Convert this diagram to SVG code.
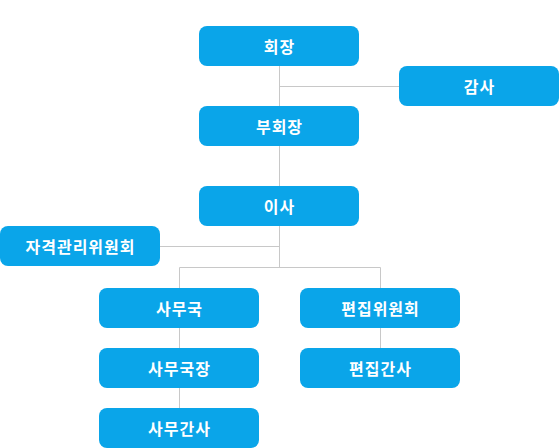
<svg xmlns="http://www.w3.org/2000/svg" width="559" height="448" viewBox="0 0 559 448">
<style>
.n rect{fill:#0aa5e9}
.n text{fill:#fff;font-family:"Noto Sans CJK KR","Noto Sans",sans-serif;font-size:16px;letter-spacing:1px;font-weight:bold;text-anchor:middle;dominant-baseline:central}
#c line{stroke:#c8c8c8;stroke-width:1}
</style>
<rect width="559" height="448" fill="#fff"/>
<g id="c">
<line x1="279.5" y1="66" x2="279.5" y2="106"/>
<line x1="279.5" y1="86.5" x2="399" y2="86.5"/>
<line x1="279.5" y1="146" x2="279.5" y2="186"/>
<line x1="279.5" y1="226" x2="279.5" y2="267.5"/>
<line x1="160" y1="246.5" x2="279.5" y2="246.5"/>
<line x1="179.5" y1="267.5" x2="380.5" y2="267.5"/>
<line x1="179.5" y1="267.5" x2="179.5" y2="288"/>
<line x1="380.5" y1="267.5" x2="380.5" y2="288"/>
<line x1="179.5" y1="328" x2="179.5" y2="348"/>
<line x1="179.5" y1="388" x2="179.5" y2="408"/>
<line x1="380.5" y1="328" x2="380.5" y2="348"/>
</g>
<g id="n1" class="n"><rect x="199" y="26" width="160" height="40" rx="8"/><text x="279.5" y="46">회장</text></g>
<g id="n2" class="n"><rect x="399" y="66" width="160" height="40" rx="8"/><text x="479.5" y="86">감사</text></g>
<g id="n3" class="n"><rect x="199" y="106" width="160" height="40" rx="8"/><text x="279.5" y="126">부회장</text></g>
<g id="n4" class="n"><rect x="199" y="186" width="160" height="40" rx="8"/><text x="279.5" y="206">이사</text></g>
<g id="n5" class="n"><rect x="0" y="226" width="160" height="40" rx="8"/><text x="80.5" y="246">자격관리위원회</text></g>
<g id="n6" class="n"><rect x="99" y="288" width="160" height="40" rx="8"/><text x="179.5" y="308">사무국</text></g>
<g id="n7" class="n"><rect x="300" y="288" width="160" height="40" rx="8"/><text x="380.5" y="308">편집위원회</text></g>
<g id="n8" class="n"><rect x="99" y="348" width="160" height="40" rx="8"/><text x="179.5" y="368">사무국장</text></g>
<g id="n9" class="n"><rect x="300" y="348" width="160" height="40" rx="8"/><text x="380.5" y="368">편집간사</text></g>
<g id="n10" class="n"><rect x="99" y="408" width="160" height="40" rx="8"/><text x="179.5" y="428">사무간사</text></g>
</svg>
